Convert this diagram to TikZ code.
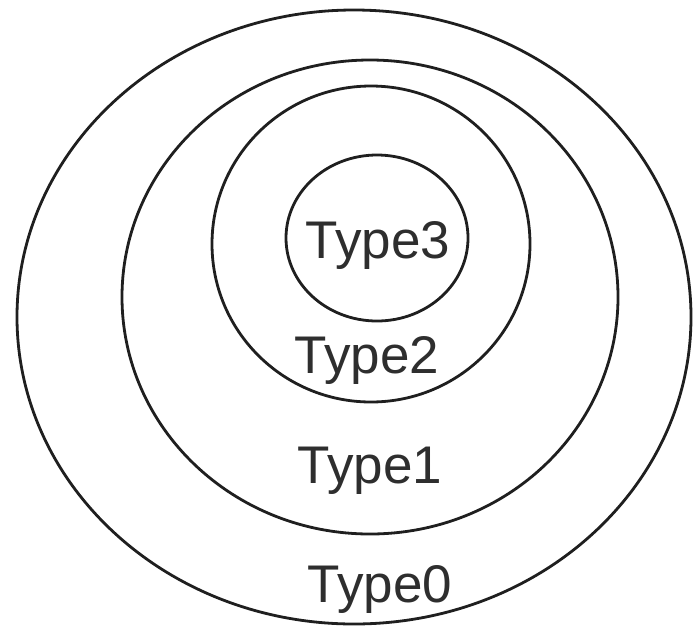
\documentclass[tikz,border=0pt]{standalone}
\usepackage{fontspec}
\setmainfont{Liberation Sans}
\begin{document}
\begin{tikzpicture}[x=1pt,y=-1pt,
  ring/.style={draw=black!88,line width=2.8pt},
  lbl/.style={anchor=base,inner sep=0pt,text=black!82,font=\fontsize{53}{53}\selectfont}]
\useasboundingbox (0,0) rectangle (695,630);
\draw[ring] (354,317) ellipse [x radius=337, y radius=307];
\draw[ring] (370,297) ellipse [x radius=248, y radius=237];
\draw[ring] (371,244) ellipse [x radius=159, y radius=158];
\draw[ring] (377,238) ellipse [x radius=91, y radius=83];
\node[lbl] (t3) at (378,258) {Type3};
\node[lbl] (t2) at (367,373) {Type2};
\node[lbl] (t1) at (370,483) {Type1};
\node[lbl] (t0) at (380,602) {Type0};
\end{tikzpicture}
\end{document}
